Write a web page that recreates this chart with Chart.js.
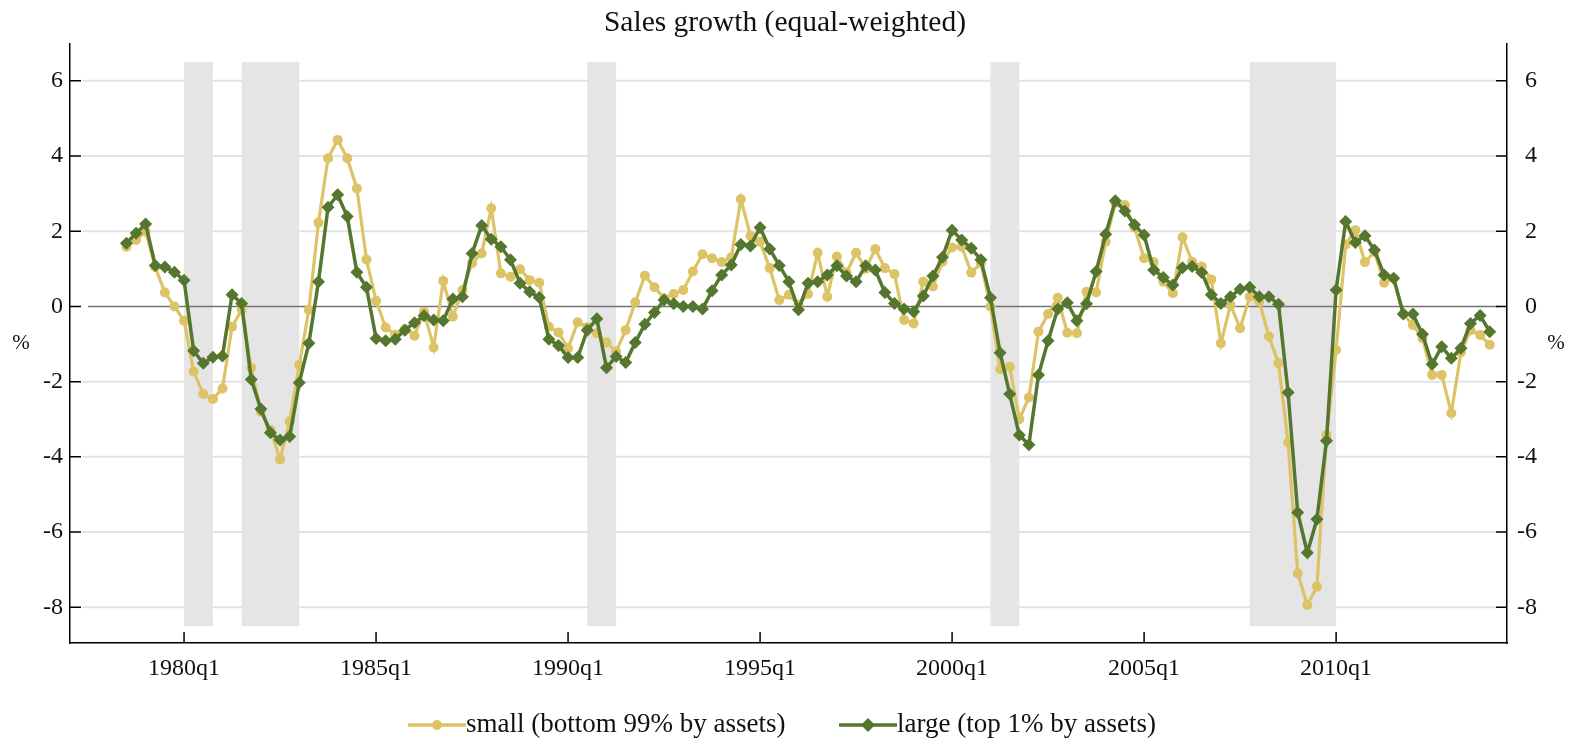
<!DOCTYPE html>
<html>
<head>
<meta charset="utf-8">
<script src="https://cdn.jsdelivr.net/npm/chart.js@4"></script>
<style>
  body { margin: 0; background: #fff; }
  #wrap { width: 1581px; height: 743px; position: relative; }
</style>
</head>
<body>
<div id="wrap"><canvas id="salesChart"></canvas></div>
<script>
// first quarter of the series and quarterly values (percent)
const firstYear = 1978, firstQ = 3;

const small = [
  1.59, 1.77, 1.99, 1.05, 0.37, 0.0, -0.38, -1.73, -2.33, -2.46,
  -2.18, -0.54, -0.09, -1.63, -2.8, -3.28, -4.06, -3.06, -1.56, -0.09,
  2.23, 3.94, 4.43, 3.94, 3.14, 1.25, 0.15, -0.56, -0.75, -0.6,
  -0.78, -0.14, -1.09, 0.68, -0.27, 0.44, 1.15, 1.41, 2.61, 0.88,
  0.79, 0.99, 0.70, 0.63, -0.54, -0.69, -1.11, -0.42, -0.55, -0.71,
  -0.96, -1.20, -0.63, 0.11, 0.82, 0.51, 0.22, 0.33, 0.44, 0.93,
  1.39, 1.28, 1.18, 1.31, 2.85, 1.88, 1.72, 1.02, 0.17, 0.31,
  0.05, 0.33, 1.43, 0.26, 1.33, 0.9, 1.43, 1.0, 1.53, 1.02,
  0.86, -0.36, -0.45, 0.66, 0.53, 1.19, 1.57, 1.59, 0.90, 1.15,
  0.0, -1.67, -1.60, -3.0, -2.42, -0.67, -0.2, 0.23, -0.70, -0.71,
  0.39, 0.37, 1.72, 2.75, 2.70, 2.1, 1.28, 1.18, 0.66, 0.35,
  1.84, 1.19, 1.06, 0.72, -0.98, 0.04, -0.58, 0.26, 0.13, -0.80,
  -1.51, -3.62, -7.10, -7.94, -7.45, -3.42, -1.16, 1.65, 2.03, 1.18,
  1.45, 0.63, 0.75, -0.2, -0.49, -0.85, -1.82, -1.82, -2.84, -1.22,
  -0.63, -0.76, -1.02
];

const large = [
  1.68, 1.95, 2.19, 1.09, 1.05, 0.91, 0.70, -1.18, -1.51, -1.35,
  -1.32, 0.31, 0.08, -1.94, -2.73, -3.36, -3.55, -3.46, -2.03, -0.98,
  0.66, 2.64, 2.97, 2.39, 0.91, 0.51, -0.85, -0.91, -0.87, -0.63,
  -0.43, -0.25, -0.36, -0.38, 0.20, 0.26, 1.41, 2.15, 1.79, 1.59,
  1.24, 0.62, 0.39, 0.24, -0.87, -1.04, -1.36, -1.36, -0.63, -0.33,
  -1.63, -1.33, -1.49, -0.96, -0.47, -0.16, 0.17, 0.07, 0.0, 0.0,
  -0.07, 0.42, 0.84, 1.10, 1.65, 1.61, 2.10, 1.53, 1.09, 0.66,
  -0.09, 0.62, 0.66, 0.84, 1.08, 0.81, 0.66, 1.08, 0.97, 0.37,
  0.08, -0.07, -0.14, 0.28, 0.81, 1.31, 2.03, 1.77, 1.55, 1.24,
  0.23, -1.23, -2.33, -3.42, -3.68, -1.82, -0.91, -0.07, 0.10, -0.38,
  0.07, 0.93, 1.92, 2.81, 2.54, 2.17, 1.90, 0.97, 0.77, 0.57,
  1.03, 1.06, 0.90, 0.31, 0.08, 0.26, 0.46, 0.51, 0.26, 0.26,
  0.06, -2.29, -5.48, -6.55, -5.66, -3.57, 0.44, 2.26, 1.70, 1.88,
  1.50, 0.84, 0.75, -0.20, -0.20, -0.74, -1.54, -1.07, -1.38, -1.11,
  -0.45, -0.24, -0.67
];

// recession shading, start/end as fractional years
const recessions = [
  [1980.0, 1980.75],
  [1981.5, 1983.0],
  [1990.5, 1991.25],
  [2001.0, 2001.75],
  [2007.75, 2010.0]
];

const xTickYears = [1980, 1985, 1990, 1995, 2000, 2005, 2010];
const yTickValues = [-8, -6, -4, -2, 0, 2, 4, 6];

const seriesNames = ['small (bottom 99% by assets)', 'large (top 1% by assets)'];
const colSmall = '#dcc365';
const colLarge = '#55762e';
const FONT = '"Liberation Serif", "DejaVu Serif", serif';

function toPoints(values) {
  return values.map((v, i) => {
    const q = firstQ - 1 + i;
    return { x: firstYear + q / 4, y: v };
  });
}

const backdrop = {
  id: 'backdrop',
  beforeDatasetsDraw(chart) {
    const { ctx, chartArea: a, scales: { x, y } } = chart;
    ctx.save();
    // grid lines
    ctx.strokeStyle = '#e3e3e3';
    ctx.lineWidth = 2;
    yTickValues.forEach(v => {
      if (v === 0) return;
      const py = y.getPixelForValue(v);
      ctx.beginPath();
      ctx.moveTo(a.left + 12, py);
      ctx.lineTo(a.right - 10, py);
      ctx.stroke();
    });
    // recession bars
    ctx.fillStyle = '#e5e5e5';
    const top = y.getPixelForValue(6.5), bot = y.getPixelForValue(-8.5);
    recessions.forEach(([s, e]) => {
      const x0 = x.getPixelForValue(s), x1 = x.getPixelForValue(e);
      ctx.fillRect(x0, top, x1 - x0, bot - top);
    });
    // zero line
    ctx.strokeStyle = '#737373';
    ctx.lineWidth = 1.5;
    const p0 = y.getPixelForValue(0);
    ctx.beginPath();
    ctx.moveTo(a.left + 18, p0);
    ctx.lineTo(a.right - 8, p0);
    ctx.stroke();
    // inward tick marks
    ctx.strokeStyle = '#000';
    ctx.lineWidth = 1.5;
    yTickValues.forEach(v => {
      const py = y.getPixelForValue(v);
      ctx.beginPath();
      ctx.moveTo(a.left, py); ctx.lineTo(a.left + 11, py);
      ctx.moveTo(a.right, py); ctx.lineTo(a.right - 11, py);
      ctx.stroke();
    });
    xTickYears.forEach(v => {
      const px = x.getPixelForValue(v);
      ctx.beginPath();
      ctx.moveTo(px, a.bottom); ctx.lineTo(px, a.bottom - 11);
      ctx.stroke();
    });
    ctx.restore();
  },
  afterDraw(chart) {
    const { ctx, chartArea: a } = chart;
    ctx.save();
    ctx.fillStyle = '#111';
    ctx.textBaseline = 'middle';
    ctx.textAlign = 'center';
    ctx.font = '29.5px ' + FONT;
    ctx.fillText('Sales growth (equal-weighted)', 785, 23);
    ctx.font = '21px ' + FONT;
    const mid = (a.top + a.bottom) / 2;
    ctx.fillText('%', 21, mid);
    ctx.fillText('%', 1556, mid);

    // legend
    const ly = 725;
    const items = [
      { x: 408, color: colSmall, style: 'circle', text: seriesNames[0] },
      { x: 839, color: colLarge, style: 'diamond', text: seriesNames[1] }
    ];
    ctx.font = '27px ' + FONT;
    ctx.textAlign = 'left';
    items.forEach(it => {
      ctx.strokeStyle = it.color;
      ctx.fillStyle = it.color;
      ctx.lineWidth = 3.5;
      ctx.beginPath();
      ctx.moveTo(it.x, ly); ctx.lineTo(it.x + 58, ly);
      ctx.stroke();
      const cx = it.x + 29;
      ctx.beginPath();
      if (it.style === 'circle') {
        ctx.arc(cx, ly, 5, 0, Math.PI * 2);
      } else {
        ctx.moveTo(cx, ly - 7); ctx.lineTo(cx + 7, ly);
        ctx.lineTo(cx, ly + 7); ctx.lineTo(cx - 7, ly);
        ctx.closePath();
      }
      ctx.fill();
      ctx.fillStyle = '#111';
      ctx.fillText(it.text, it.x + 58, ly);
    });
    ctx.restore();
  }
};

const yAxisCommon = {
  type: 'linear',
  min: -8.95,
  max: 6.98,
  grid: { display: false, drawTicks: false },
  border: { display: true, color: '#000', width: 1.5 },
  afterBuildTicks: s => { s.ticks = yTickValues.map(v => ({ value: v })); },
  ticks: {
    padding: 7,
    color: '#111',
    font: { family: FONT, size: 24 },
    callback: v => String(v)
  }
};

new Chart(document.getElementById('salesChart'), {
  type: 'line',
  data: {
    datasets: [
      {
        label: seriesNames[0],
        data: toPoints(small),
        borderColor: colSmall,
        backgroundColor: colSmall,
        borderWidth: 3.2,
        pointStyle: 'circle',
        pointRadius: 5,
        pointBorderWidth: 0,
        pointBackgroundColor: colSmall,
        tension: 0,
        order: 1
      },
      {
        label: seriesNames[1],
        data: toPoints(large),
        borderColor: colLarge,
        backgroundColor: colLarge,
        borderWidth: 3.5,
        pointStyle: 'rectRot',
        pointRadius: 6.5,
        pointBorderWidth: 0,
        pointBackgroundColor: colLarge,
        tension: 0,
        order: 0
      }
    ]
  },
  options: {
    responsive: true,
    maintainAspectRatio: false,
    animation: false,
    layout: { padding: { top: 44, left: 0, right: 44, bottom: 0 } },
    plugins: {
      legend: { display: false },
      title: { display: false },
      tooltip: { enabled: false }
    },
    scales: {
      x: {
        type: 'linear',
        min: 1977.03,
        max: 2014.45,
        grid: { display: false, drawTicks: false },
        border: { display: true, color: '#000', width: 1.5 },
        afterBuildTicks: s => { s.ticks = xTickYears.map(v => ({ value: v })); },
        afterFit: s => { s.height = 100; },
        ticks: {
          padding: 11,
          maxRotation: 0,
          color: '#111',
          font: { family: FONT, size: 24 },
          callback: v => v + 'q1'
        }
      },
      y: Object.assign({}, yAxisCommon, {
        position: 'left',
        afterFit: s => { s.width = 70; }
      }),
      y2: Object.assign({}, yAxisCommon, {
        position: 'right',
        afterFit: s => { s.width = 30; },
        ticks: Object.assign({}, yAxisCommon.ticks, { crossAlign: 'far' })
      })
    }
  },
  plugins: [backdrop]
});
</script>
</body>
</html>
